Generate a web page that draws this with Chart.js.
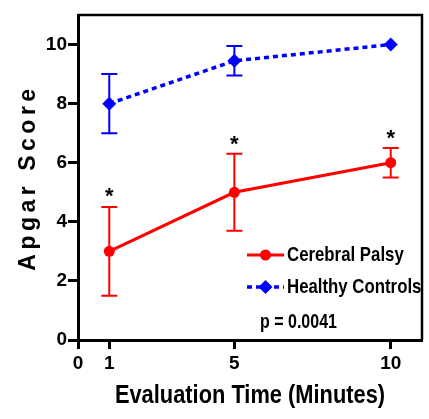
<!DOCTYPE html>
<html>
<head>
<meta charset="utf-8">
<script src="https://cdn.jsdelivr.net/npm/chart.js@4.4.0/dist/chart.umd.min.js"></script>
<style>
  html, body { margin: 0; padding: 0; background: #fff; }
  #wrap { width: 429px; height: 419px; }
</style>
</head>
<body>
<div id="wrap"><canvas id="chart"></canvas></div>
<script>
// values
const minutes = [1, 5, 10];
const cpMean = [3, 5, 6];
const cpSD = [1.5, 1.3, 0.5];
const hcMean = [8, 9.45, 10];
const hcSD = [1, 0.5, 0];
const starY = [5.05, 6.8, 7.0];   // where the "*" marks sit
const xTicks = [0, 1, 5, 10];
const yTicks = [0, 2, 4, 6, 8, 10];
const xTitle = 'Evaluation Time (Minutes)';
const yTitle = 'Apgar Score';
const pText = 'p = 0.0041';

const SANS = "'Liberation Sans', Arial, sans-serif";
const RED = '#ff0000';
const BLUE = '#0000ff';

const sds = [cpSD, hcSD];

// no narrow font installed, so squeeze the bold sans sideways
function narrowText(ctx, text, x, y, size, squeeze, align) {
    ctx.save();
    ctx.translate(x, y);
    ctx.scale(squeeze, 1);
    ctx.font = 'bold ' + size + 'px ' + SANS;
    ctx.textAlign = align;
    ctx.textBaseline = 'middle';
    ctx.fillText(text, 0, 0);
    ctx.restore();
}

// error bars under the markers
const errorBars = {
    id: 'errorBars',
    beforeDatasetsDraw(chart) {
        const { ctx, scales: { x, y } } = chart;
        chart.data.datasets.forEach((ds, i) => {
            ctx.save();
            ctx.strokeStyle = ds.borderColor;
            ctx.lineWidth = 2;
            ds.data.forEach((p, j) => {
                const sd = sds[i][j];
                if (!sd) return;
                const px = x.getPixelForValue(p.x);
                const top = y.getPixelForValue(p.y + sd);
                const bot = y.getPixelForValue(p.y - sd);
                ctx.beginPath();
                ctx.moveTo(px, top); ctx.lineTo(px, bot);
                ctx.moveTo(px - 8, top); ctx.lineTo(px + 8, top);
                ctx.moveTo(px - 8, bot); ctx.lineTo(px + 8, bot);
                ctx.stroke();
            });
            ctx.restore();
        });
    }
};

// frame, axis titles, asterisks, legend and p value
const extras = {
    id: 'extras',
    afterDraw(chart) {
        const { ctx, chartArea: a, scales: { x, y } } = chart;
        ctx.save();

        // top and right border
        ctx.strokeStyle = '#000';
        ctx.lineWidth = 2.5;
        ctx.beginPath();
        ctx.moveTo(a.left, a.top);
        ctx.lineTo(a.right, a.top);
        ctx.lineTo(a.right, a.bottom);
        ctx.stroke();

        // y axis title, letter spaced
        ctx.fillStyle = '#000';
        ctx.save();
        ctx.translate(35, (a.top + a.bottom) / 2);
        ctx.rotate(-Math.PI / 2);
        ctx.font = 'bold 23px ' + SANS;
        ctx.letterSpacing = '4.5px';
        ctx.textAlign = 'center';
        ctx.textBaseline = 'alphabetic';
        ctx.fillText(yTitle, 0, 0);
        ctx.restore();

        // x axis title
        narrowText(ctx, xTitle, (a.left + a.right) / 2, 396, 26, 0.84, 'center');

        // significance marks
        ctx.font = 'bold 22px ' + SANS;
        ctx.textAlign = 'center';
        ctx.textBaseline = 'alphabetic';
        minutes.forEach((m, i) => {
            ctx.fillText('*', x.getPixelForValue(m), y.getPixelForValue(starY[i]) + 12);
        });

        // legend
        const ds = chart.data.datasets;
        const l1 = a.right - 175, l2 = a.right - 138, lm = (l1 + l2) / 2;
        const rows = [a.bottom - 85, a.bottom - 53];

        ctx.strokeStyle = RED; ctx.fillStyle = RED; ctx.lineWidth = 3;
        ctx.beginPath(); ctx.moveTo(l1, rows[0]); ctx.lineTo(l2, rows[0]); ctx.stroke();
        ctx.beginPath(); ctx.arc(lm, rows[0], 5.5, 0, Math.PI * 2); ctx.fill();

        ctx.strokeStyle = BLUE; ctx.fillStyle = BLUE; ctx.lineWidth = 3.5;
        ctx.setLineDash([5, 4]);
        ctx.beginPath(); ctx.moveTo(l1, rows[1]); ctx.lineTo(l2, rows[1]); ctx.stroke();
        ctx.setLineDash([]);
        ctx.beginPath();
        ctx.moveTo(lm, rows[1] - 7); ctx.lineTo(lm + 7, rows[1]);
        ctx.lineTo(lm, rows[1] + 7); ctx.lineTo(lm - 7, rows[1]);
        ctx.closePath(); ctx.fill();

        ctx.fillStyle = '#000';
        narrowText(ctx, ds[0].label, l2 + 3, rows[0], 21, 0.8, 'left');
        narrowText(ctx, ds[1].label, l2 + 3, rows[1], 21, 0.8, 'left');
        narrowText(ctx, pText, a.right - 162, a.bottom - 18, 20, 0.8, 'left');

        ctx.restore();
    }
};

const tickFont = { family: SANS, size: 19, weight: 'bold' };

new Chart(document.getElementById('chart'), {
    type: 'scatter',
    data: {
        datasets: [
            {
                label: 'Cerebral Palsy',
                data: minutes.map((m, i) => ({ x: m, y: cpMean[i] })),
                showLine: true,
                borderColor: RED,
                backgroundColor: RED,
                borderWidth: 3,
                pointStyle: 'circle',
                pointRadius: 5.5,
                pointBorderWidth: 0,
            },
            {
                label: 'Healthy Controls',
                data: minutes.map((m, i) => ({ x: m, y: hcMean[i] })),
                showLine: true,
                borderColor: BLUE,
                backgroundColor: BLUE,
                borderWidth: 3.5,
                borderDash: [5, 4],
                pointStyle: 'rectRot',
                pointRadius: 7,
                pointBorderWidth: 0,
            }
        ]
    },
    options: {
        responsive: true,
        maintainAspectRatio: false,
        animation: false,
        layout: { padding: { top: 15, right: 4, left: 0, bottom: 0 } },
        plugins: {
            legend: { display: false },
            tooltip: { enabled: false },
        },
        scales: {
            x: {
                type: 'linear',
                min: 0,
                max: 11,
                afterBuildTicks: (s) => { s.ticks = xTicks.map(v => ({ value: v })); },
                afterFit: (s) => { s.height = 79; },
                ticks: { font: tickFont, color: '#000', padding: 3, maxRotation: 0, autoSkip: false },
                grid: { drawOnChartArea: false, drawTicks: true, tickLength: 9, tickWidth: 3, tickColor: '#000' },
                border: { color: '#000', width: 3 },
            },
            y: {
                min: 0,
                max: 11,
                afterBuildTicks: (s) => { s.ticks = yTicks.map(v => ({ value: v })); },
                afterFit: (s) => { s.width = 78; },
                ticks: { font: tickFont, color: '#000', padding: 1 },
                grid: { drawOnChartArea: false, drawTicks: true, tickLength: 10, tickWidth: 3, tickColor: '#000' },
                border: { color: '#000', width: 3 },
            }
        }
    },
    plugins: [errorBars, extras]
});
</script>
</body>
</html>
